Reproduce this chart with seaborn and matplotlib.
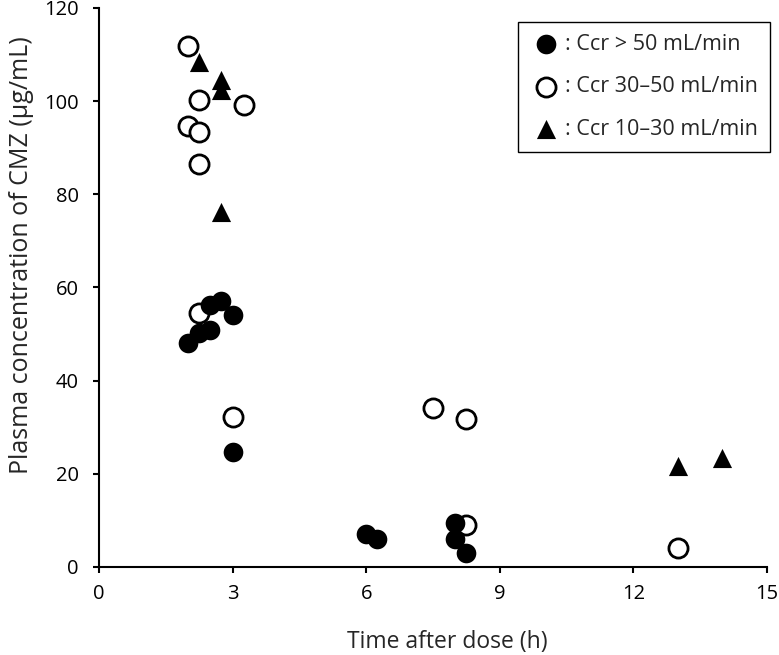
import pandas as pd
import numpy as np
import matplotlib
matplotlib.use("Agg")
import matplotlib.pyplot as plt
import seaborn as sns

# Ccr > 50 mL/min (filled circles)
t_high = [2.0, 2.25, 2.5, 2.5, 2.75, 3.0, 3.0, 6.0, 6.25, 8.0, 8.0, 8.25]
c_high = [48.1, 50.3, 50.9, 56.2, 57.0, 54.1, 24.6, 7.0, 5.9, 9.5, 5.9, 3.1]

# Ccr 30-50 mL/min (open circles)
t_mid = [2.0, 2.0, 2.25, 2.25, 2.25, 2.25, 3.25, 3.0, 7.5, 8.25, 8.25, 13.0]
c_mid = [111.8, 94.7, 100.2, 93.3, 86.5, 54.5, 99.1, 32.2, 34.2, 31.7, 9.0, 4.1]

# Ccr 10-30 mL/min (filled triangles)
t_low = [2.25, 2.75, 2.75, 2.75, 13.0, 14.0]
c_low = [108.5, 104.5, 102.4, 76.1, 21.7, 23.3]

labels = [": Ccr > 50 mL/min", ": Ccr 30\u201350 mL/min", ": Ccr 10\u201330 mL/min"]

sns.set_style("ticks")
plt.rcParams['font.family'] = ['Open Sans', 'DejaVu Sans']

fig = plt.figure(figsize=(7.79, 6.55), dpi=100)
ax = fig.add_axes([0.1271, 0.1344, 0.8575, 0.8534])

df_high = pd.DataFrame({"t": t_high, "c": c_high})
df_mid = pd.DataFrame({"t": t_mid, "c": c_mid})
df_low = pd.DataFrame({"t": t_low, "c": c_low})

sns.scatterplot(data=df_high, x="t", y="c", ax=ax, marker="o", s=200,
                color="black", edgecolor="black", linewidth=0, label=labels[0], zorder=3)
sns.scatterplot(data=df_mid, x="t", y="c", ax=ax, marker="o", s=190,
                facecolor="white", edgecolor="black", linewidth=2.0, label=labels[1], zorder=2)
sns.scatterplot(data=df_low, x="t", y="c", ax=ax, marker="^", s=190,
                color="black", edgecolor="black", linewidth=0, label=labels[2], zorder=3)

ax.set_xlim(0, 15)
ax.set_ylim(0, 120)
ax.set_xticks([0, 3, 6, 9, 12, 15])
ax.set_yticks([0, 20, 40, 60, 80, 100, 120])
ax.tick_params(direction="out", length=4.5, width=1.5, labelsize=14.5, colors="black")
ax.tick_params(axis="x", pad=7.5)
ax.tick_params(axis="y", pad=10)
for s in ["left", "bottom"]:
    ax.spines[s].set_linewidth(1.5)
    ax.spines[s].set_color("black")
sns.despine(ax=ax)

ax.set_xlabel("Time after dose (h)", fontsize=16.5)
ax.set_ylabel("Plasma concentration of CMZ (\u00b5g/mL)", fontsize=18)
ax.xaxis.set_label_coords(0.522, -0.112)
ax.yaxis.set_label_coords(-0.097, 0.557)

leg = ax.legend(loc="upper right", bbox_to_anchor=(1.0045, 0.975), fontsize=15.5,
                frameon=True, fancybox=False, edgecolor="black", framealpha=1,
                handletextpad=0.15, borderpad=0.55, labelspacing=1.0, handlelength=1.5,
                borderaxespad=0)
leg.get_frame().set_linewidth(1.0)

fig.savefig("out.png", dpi=100)
plt.close(fig)
